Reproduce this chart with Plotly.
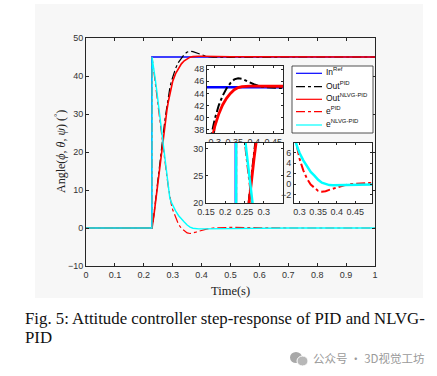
import plotly.graph_objects as go

# ---------------- data ----------------
t_ref = [0, 0.2275, 0.2275, 1.0]
in_ref = [0, 0, 45, 45]

t_resp = [0, 0.228, 0.2285, 0.235, 0.24, 0.245, 0.25, 0.255, 0.26, 0.265, 0.27, 0.275,
          0.28, 0.285, 0.29, 0.295, 0.30, 0.31, 0.32, 0.33, 0.34, 0.35, 0.36, 0.37,
          0.38, 0.39, 0.40, 0.42, 0.44, 0.46, 0.48, 0.50, 0.55, 0.60, 0.70, 1.00]

out_pid = [0, 0, 0, 3.5, 7, 10.5, 13.5, 16, 19.5, 23, 26.5, 29.5,
           32.3, 34.8, 36.8, 38.5, 39.8, 42.0, 43.6, 44.8, 45.7, 46.3, 46.5, 46.4,
           46.1, 45.8, 45.5, 45.1, 44.95, 44.9, 44.9, 44.92, 44.97, 45.0, 45.0, 45.0]

out_nlvg = [0, 0, 0, 3.3, 6.5, 9.8, 13, 16.3, 19.5, 22.5, 25.5, 28.3,
            31, 33.3, 35.4, 37.2, 38.6, 40.6, 42.1, 43.2, 44.0, 44.6, 44.95, 45.1,
            45.2, 45.2, 45.2, 45.15, 45.12, 45.1, 45.1, 45.08, 45.05, 45.03, 45.01, 45.0]

e_pid = [0, 0, 45, 41.5, 38.3, 35, 31.8, 28.5, 25.3, 22.2, 19.3, 16.3,
         13.5, 10.8, 8.2, 6.3, 4.8, 2.6, 1.0, -0.1, -0.8, -1.3, -1.45, -1.35,
         -1.1, -0.85, -0.6, -0.25, 0.0, 0.12, 0.18, 0.18, 0.1, 0.05, 0.0, 0.0]

e_nlvg = [0, 0, 45, 42, 39, 36, 32.8, 29.5, 26.3, 23.2, 20.3, 17.5,
          14.8, 10.5, 7.9, 6.8, 5.9, 4.5, 3.3, 2.3, 1.6, 0.8, 0.25, -0.05,
          -0.2, -0.22, -0.22, -0.2, -0.18, -0.15, -0.12, -0.1, -0.05, -0.02, 0.0, 0.0]

names = ["In<sup>Ref</sup>", "Out<sup>PID</sup>", "Out<sup>NLVG-PID</sup>",
         "e<sup>PID</sup>", "e<sup>NLVG-PID</sup>"]

x_ticks_main = [0, 0.1, 0.2, 0.3, 0.4, 0.5, 0.6, 0.7, 0.8, 0.9, 1]
y_ticks_main = [-10, 0, 10, 20, 30, 40, 50]
inset1_xticks = [0.3, 0.35, 0.4, 0.45]
inset1_yticks = [38, 40, 42, 44, 46, 48]
inset2_xticks = [0.15, 0.2, 0.25, 0.3]
inset2_yticks = [20, 25, 30]
inset3_xticks = [0.3, 0.35, 0.4, 0.45]
inset3_yticks = [-2, 0, 2, 4, 6]

# ---------------- figure ----------------
W, H = 437, 376
def px(x):
    return x / W
def py(y):
    return 1 - y / H

colors = ["#0000ff", "#000000", "#ff0000", "#ff0000", "#00ffff"]
dashes = ["solid", "dashdot", "solid", "dashdot", "solid"]
series = [(t_ref, in_ref), (t_resp, out_pid), (t_resp, out_nlvg),
          (t_resp, e_pid), (t_resp, e_nlvg)]
main_w = [1.3, 1.2, 1.6, 1.2, 1.4]
inset_w = [2.5, 2.0, 2.8, 2.0, 2.5]

fig = go.Figure()
axes = [("x", "y"), ("x2", "y2"), ("x3", "y3"), ("x4", "y4")]
for k, (xa, ya) in enumerate(axes):
    for i, (tx, vy) in enumerate(series):
        fig.add_trace(go.Scatter(
            x=tx, y=vy, mode="lines", name=names[i],
            line=dict(color=colors[i], dash=dashes[i],
                      width=main_w[i] if k == 0 else inset_w[i]),
            showlegend=False, xaxis=xa, yaxis=ya, hoverinfo="skip"))

axcol = "#262626"
tickfont = dict(family="Liberation Sans, Arial, sans-serif", size=9, color="#333333")
common = dict(showline=True, linecolor=axcol, linewidth=0.8, mirror="ticks",
              ticks="inside", tickcolor=axcol, showgrid=False, zeroline=False,
              tickfont=tickfont, automargin=False)

fig.update_layout(
    template="none",
    width=W, height=H, margin=dict(l=0, r=0, t=0, b=0, autoexpand=False),
    paper_bgcolor="white", plot_bgcolor="white", showlegend=False,
    xaxis=dict(domain=[px(86), px(375)], range=[0, 1], tickvals=x_ticks_main,
               ticklen=3, anchor="y", **common),
    yaxis=dict(domain=[py(266), py(38)], range=[-10, 50], tickvals=y_ticks_main,
               ticklen=3, anchor="x", **common),
    xaxis2=dict(domain=[px(207), px(283)], range=[0.28, 0.475], tickvals=inset1_xticks,
                ticktext=["0.3", "0.35", "0.4", "0.45"], ticklen=2, anchor="y2", **common),
    yaxis2=dict(domain=[py(133), py(66)], range=[37.5, 48.5], tickvals=inset1_yticks,
                ticklen=2, anchor="x2", **common),
    xaxis3=dict(domain=[px(206), px(283)], range=[0.15, 0.35], tickvals=inset2_xticks,
                ticktext=["0.15", "0.2", "0.25", "0.3"], ticklen=2, anchor="y3", **common),
    yaxis3=dict(domain=[py(203), py(143)], range=[20, 31], tickvals=inset2_yticks,
                ticklen=2, anchor="x3", **common),
    xaxis4=dict(domain=[px(294), px(372)], range=[0.285, 0.495], tickvals=inset3_xticks,
                ticktext=["0.3", "0.35", "0.4", "0.45"], ticklen=2, anchor="y4", **common),
    yaxis4=dict(domain=[py(203), py(143)], range=[-3.6, 7.8], tickvals=inset3_yticks,
                ticklen=2, anchor="x4", **common),
)

# light grey figure panel behind the chart
fig.add_shape(type="rect", xref="paper", yref="paper", x0=px(35), x1=px(423),
              y0=py(298), y1=py(4), fillcolor="#f7f7f7", line=dict(width=0), layer="below")

# manual legend (box, line samples, labels)
fig.add_shape(type="rect", xref="paper", yref="paper", x0=px(292), x1=px(373),
              y0=py(133), y1=py(66), fillcolor="white", line=dict(color=axcol, width=0.8))
leg_y = [73.3, 86.7, 99.3, 111.7, 125.0]
for i in range(5):
    fig.add_shape(type="line", xref="paper", yref="paper", x0=px(296), x1=px(322),
                  y0=py(leg_y[i]), y1=py(leg_y[i]),
                  line=dict(color=colors[i], dash=dashes[i], width=1.2))
    fig.add_annotation(text=names[i], x=px(323.5), y=py(leg_y[i] - 1.5), xref="paper",
                       yref="paper", xanchor="left", yanchor="middle", showarrow=False,
                       font=dict(family="Liberation Sans, Arial, sans-serif", size=8.5,
                                 color="#111"))

serif = "Liberation Serif, Times New Roman, serif"
fig.add_annotation(text="Angle(<i>ϕ</i>, <i>θ</i>, <i>ψ</i>) (<sup>°</sup>)",
                   x=px(60), y=py(152), xref="paper", yref="paper", textangle=-90,
                   xanchor="center", yanchor="middle",
                   showarrow=False, font=dict(family=serif, size=12, color="#222"))
fig.add_annotation(text="Time(s)", x=px(230), y=py(291), xref="paper", yref="paper",
                   xanchor="center", yanchor="middle",
                   showarrow=False, font=dict(family=serif, size=12.5, color="#222"))
fig.add_annotation(text="Fig. 5: Attitude controller step-response of PID and NLVG-",
                   x=px(23), y=py(318), xref="paper", yref="paper", xanchor="left",
                   yanchor="middle",
                   showarrow=False, font=dict(family=serif, size=16.8, color="#111"))
fig.add_annotation(text="PID", x=px(23), y=py(337), xref="paper", yref="paper",
                   xanchor="left", yanchor="middle", showarrow=False,
                   font=dict(family=serif, size=16.8, color="#111"))
fig.add_annotation(text="公众号 · 3D视觉工坊", x=px(311), y=py(358), xref="paper",
                   yref="paper", xanchor="left", yanchor="middle", showarrow=False,
                   font=dict(family="Noto Sans CJK SC", size=11.5, color="#9a9a9a"))
# wechat-like icon
fig.add_shape(type="circle", xref="paper", yref="paper", x0=px(290), x1=px(302),
              y0=py(363), y1=py(352), fillcolor="#a8a8a8", line=dict(width=0))
fig.add_shape(type="circle", xref="paper", yref="paper", x0=px(297), x1=px(308),
              y0=py(366), y1=py(356), fillcolor="#b8b8b8", line=dict(color="white", width=1))

fig.write_html("out.html", config={"displayModeBar": False},
               post_script="document.body.style.margin='0';document.body.style.overflow='hidden';")
